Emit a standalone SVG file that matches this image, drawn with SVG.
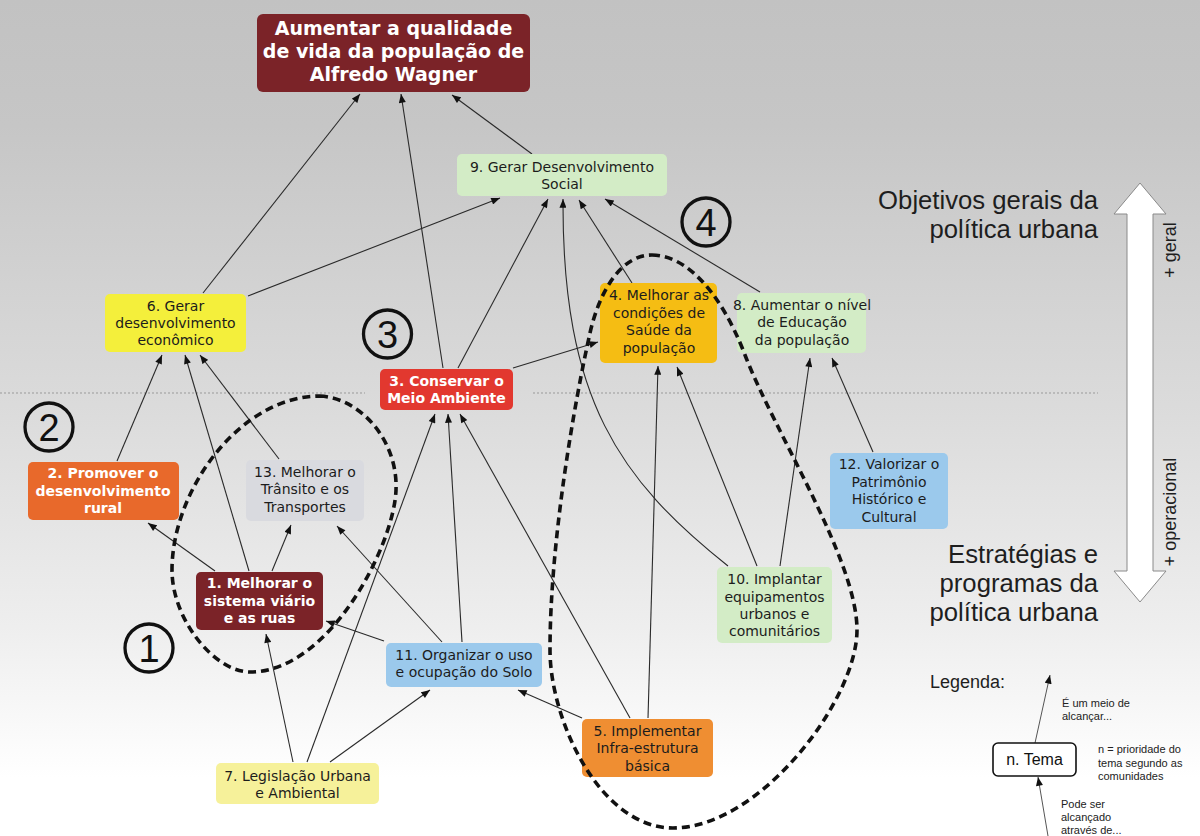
<svg xmlns="http://www.w3.org/2000/svg" width="1200" height="836" viewBox="0 0 1200 836">
<defs>
<linearGradient id="bg" x1="0" y1="0" x2="0" y2="1">
<stop offset="0" stop-color="#c2c2c2"/>
<stop offset="0.15" stop-color="#c6c6c6"/>
<stop offset="0.5" stop-color="#dcdcdc"/>
<stop offset="0.75" stop-color="#eeeeee"/>
<stop offset="0.93" stop-color="#ffffff"/>
</linearGradient>
<marker id="ah" viewBox="0 0 10 8" refX="10" refY="4" markerWidth="10" markerHeight="7" markerUnits="userSpaceOnUse" orient="auto">
<path d="M0,0 L10,4 L0,8 z" fill="#111"/>
</marker>
<style>
.n{font-family:"DejaVu Sans",Verdana,sans-serif;font-size:14px;fill:#1c1c1c;text-anchor:middle}
.b{font-family:"DejaVu Sans",Verdana,sans-serif;font-size:14px;font-weight:bold;fill:#ffffff;text-anchor:middle}
.t{font-family:"DejaVu Sans",Verdana,sans-serif;font-size:19px;font-weight:bold;fill:#ffffff;text-anchor:middle}
.e{fill:none;stroke:#2a2a2a;stroke-width:1.1;marker-end:url(#ah)}
.big{font-family:"Liberation Sans",Arial,sans-serif;font-size:25.7px;fill:#1e1e1e;text-anchor:end}
.sm{font-family:"Liberation Sans",Arial,sans-serif;font-size:11px;fill:#222}
.num{font-family:"Liberation Sans",Arial,sans-serif;font-size:38px;fill:#111;text-anchor:middle}
.circ{fill:none;stroke:#111;stroke-width:3.3}
.dash{fill:none;stroke:#111;stroke-width:3.6;stroke-dasharray:8 5}
</style>
</defs>
<rect x="0" y="0" width="1200" height="836" fill="url(#bg)"/>
<g id="separator">
<line x1="0" y1="393" x2="365" y2="393" stroke="#999" stroke-width="1" stroke-dasharray="2 2"/>
<line x1="533" y1="393" x2="1098" y2="393" stroke="#999" stroke-width="1" stroke-dasharray="2 2"/>
</g>
<g id="connectors">
<line class="e" x1="203" y1="293" x2="360" y2="94"/>
<line class="e" x1="443" y1="368" x2="401" y2="94"/>
<line class="e" x1="532" y1="154" x2="452" y2="95"/>
<line class="e" x1="248" y1="296" x2="500" y2="198"/>
<line class="e" x1="458" y1="368" x2="548" y2="199"/>
<path class="e" d="M728,566 C620,480 562,400 563,199"/>
<line class="e" x1="632" y1="283" x2="579" y2="200"/>
<line class="e" x1="760" y1="292" x2="605" y2="199"/>
<line class="e" x1="513" y1="368" x2="598" y2="342"/>
<line class="e" x1="117" y1="461" x2="162" y2="355"/>
<line class="e" x1="249" y1="571" x2="185" y2="355"/>
<line class="e" x1="279" y1="459" x2="200" y2="355"/>
<line class="e" x1="215" y1="571" x2="148" y2="523"/>
<line class="e" x1="272" y1="571" x2="291" y2="525"/>
<line class="e" x1="442" y1="642" x2="337" y2="526"/>
<line class="e" x1="384" y1="641" x2="326" y2="621"/>
<line class="e" x1="462" y1="642" x2="448" y2="414"/>
<line class="e" x1="293" y1="762" x2="266" y2="634"/>
<line class="e" x1="307" y1="762" x2="435" y2="414"/>
<line class="e" x1="330" y1="762" x2="430" y2="690"/>
<line class="e" x1="582" y1="718" x2="518" y2="690"/>
<line class="e" x1="630" y1="718" x2="460" y2="414"/>
<line class="e" x1="648" y1="718" x2="658" y2="366"/>
<line class="e" x1="757" y1="566" x2="677" y2="367"/>
<line class="e" x1="780" y1="566" x2="810" y2="358"/>
<line class="e" x1="873" y1="452" x2="832" y2="358"/>
</g>
<g id="node-top">
<rect x="257" y="14" width="273" height="78" rx="6" fill="#7b2328"/>
<text class="t" x="393.5" y="35">Aumentar a qualidade</text>
<text class="t" x="393.5" y="58">de vida da população de</text>
<text class="t" x="393.5" y="81">Alfredo Wagner</text>
</g>
<g id="node-9">
<rect x="457" y="154" width="210" height="42" rx="5" fill="#d3ecc6"/>
<text class="n" x="562" y="172">9. Gerar Desenvolvimento</text>
<text class="n" x="562" y="189">Social</text>
</g>
<g id="node-6">
<rect x="105" y="294" width="141" height="58" rx="5" fill="#f4ef3b"/>
<text class="n" x="175.5" y="311">6. Gerar</text>
<text class="n" x="175.5" y="328">desenvolvimento</text>
<text class="n" x="175.5" y="345">econômico</text>
</g>
<g id="node-3">
<rect x="380" y="369" width="133" height="41" rx="5" fill="#e2382f"/>
<text class="b" x="446.5" y="386">3. Conservar o</text>
<text class="b" x="446.5" y="403">Meio Ambiente</text>
</g>
<g id="node-4">
<rect x="600" y="283" width="117" height="80" rx="5" fill="#f5bd13"/>
<text class="n" x="659" y="300">4. Melhorar as</text>
<text class="n" x="659" y="318">condições de</text>
<text class="n" x="659" y="335">Saúde da</text>
<text class="n" x="659" y="353">população</text>
</g>
<g id="node-8">
<rect x="737" y="293" width="129" height="60" rx="5" fill="#d3ecc6"/>
<text class="n" x="802" y="310">8. Aumentar o nível</text>
<text class="n" x="802" y="327">de Educação</text>
<text class="n" x="802" y="345">da população</text>
</g>
<g id="node-2">
<rect x="28" y="462" width="151" height="58" rx="5" fill="#e8692b"/>
<text class="b" x="103" y="478">2. Promover o</text>
<text class="b" x="103" y="496">desenvolvimento</text>
<text class="b" x="103" y="513">rural</text>
</g>
<g id="node-13">
<rect x="246" y="460" width="118" height="61" rx="5" fill="#d9dadf"/>
<text class="n" x="305" y="477">13. Melhorar o</text>
<text class="n" x="305" y="494">Trânsito e os</text>
<text class="n" x="305" y="512">Transportes</text>
</g>
<g id="node-1">
<rect x="196" y="572" width="127" height="58" rx="5" fill="#7b2328"/>
<text class="b" x="259.5" y="588">1. Melhorar o</text>
<text class="b" x="259.5" y="606">sistema viário</text>
<text class="b" x="259.5" y="623">e as ruas</text>
</g>
<g id="node-12">
<rect x="830" y="453" width="118" height="76" rx="5" fill="#9bc9ec"/>
<text class="n" x="889" y="469">12. Valorizar o</text>
<text class="n" x="889" y="487">Patrimônio</text>
<text class="n" x="889" y="504">Histórico e</text>
<text class="n" x="889" y="522">Cultural</text>
</g>
<g id="node-10">
<rect x="717" y="567" width="115" height="76" rx="5" fill="#d3ecc6"/>
<text class="n" x="774.5" y="584">10. Implantar</text>
<text class="n" x="774.5" y="602">equipamentos</text>
<text class="n" x="774.5" y="619">urbanos e</text>
<text class="n" x="774.5" y="636">comunitários</text>
</g>
<g id="node-11">
<rect x="386" y="643" width="156" height="44" rx="5" fill="#9bc9ec"/>
<text class="n" x="464" y="660">11. Organizar o uso</text>
<text class="n" x="464" y="677">e ocupação do Solo</text>
</g>
<g id="node-7">
<rect x="216" y="763" width="163" height="41" rx="5" fill="#f6f19a"/>
<text class="n" x="297.5" y="781">7. Legislação Urbana</text>
<text class="n" x="297.5" y="798">e Ambiental</text>
</g>
<g id="node-5">
<rect x="582" y="719" width="131" height="58" rx="5" fill="#ef8e32"/>
<text class="n" x="647.5" y="736">5. Implementar</text>
<text class="n" x="647.5" y="753">Infra-estrutura</text>
<text class="n" x="647.5" y="771">básica</text>
</g>
<g id="groups">
<path class="dash" d="M320,396 C360,398 398,440 396,490 C394,545 330,672 250,672 C215,672 172,620 172,570 C172,490 240,396 320,396 Z"/>
<path class="dash" d="M652,255 C685,255 720,290 745,355 C775,433 857,560 857,630 C857,700 760,828 673,828 C600,828 550,720 550,650 C550,540 575,400 590,333 C599,293 620,255 652,255 Z"/>
</g>
<g id="markers">
<circle class="circ" cx="149" cy="648" r="24"/>
<text class="num" x="149" y="662">1</text>
<circle class="circ" cx="49" cy="427" r="24"/>
<text class="num" x="49" y="441">2</text>
<circle class="circ" cx="387.5" cy="334" r="24"/>
<text class="num" x="387.5" y="348">3</text>
<circle class="circ" cx="706" cy="222" r="24"/>
<text class="num" x="706" y="236">4</text>
</g>
<g id="scale">
<text class="big" x="1098" y="209">Objetivos gerais da</text>
<text class="big" x="1098" y="238">política urbana</text>
<text class="big" x="1098" y="563">Estratégias e</text>
<text class="big" x="1098" y="592">programas da</text>
<text class="big" x="1098" y="621">política urbana</text>
<polygon points="1140,183 1166,214 1153,214 1153,571 1166,571 1140,602 1114,571 1127,571 1127,214 1114,214" fill="#ffffff" stroke="#8a8a8a" stroke-width="1"/>
<text font-family="Liberation Sans, Arial, sans-serif" font-size="18" fill="#1e1e1e" text-anchor="middle" transform="translate(1176,250) rotate(-90)">+ geral</text>
<text font-family="Liberation Sans, Arial, sans-serif" font-size="18" fill="#1e1e1e" text-anchor="middle" transform="translate(1176,512) rotate(-90)">+ operacional</text>
</g>
<g id="legend">
<text font-family="Liberation Sans, Arial, sans-serif" font-size="18" fill="#1e1e1e" x="930" y="688">Legenda:</text>
<line x1="1035" y1="743" x2="1050" y2="675" stroke="#555" stroke-width="1" marker-end="url(#ah)"/>
<line x1="1048" y1="836" x2="1038" y2="777" stroke="#555" stroke-width="1" marker-end="url(#ah)"/>
<rect x="993" y="743" width="83" height="33" rx="5" fill="#ffffff" stroke="#111" stroke-width="1.6"/>
<text font-family="Liberation Sans, Arial, sans-serif" font-size="16" fill="#111" text-anchor="middle" x="1034.5" y="765">n. Tema</text>
<text class="sm" x="1062" y="707">É um meio de</text>
<text class="sm" x="1062" y="720">alcançar...</text>
<text class="sm" x="1098" y="753">n = prioridade do</text>
<text class="sm" x="1098" y="767">tema segundo as</text>
<text class="sm" x="1098" y="780">comunidades</text>
<text class="sm" x="1061" y="808">Pode ser</text>
<text class="sm" x="1061" y="821">alcançado</text>
<text class="sm" x="1061" y="834">através de...</text>
</g>
</svg>
